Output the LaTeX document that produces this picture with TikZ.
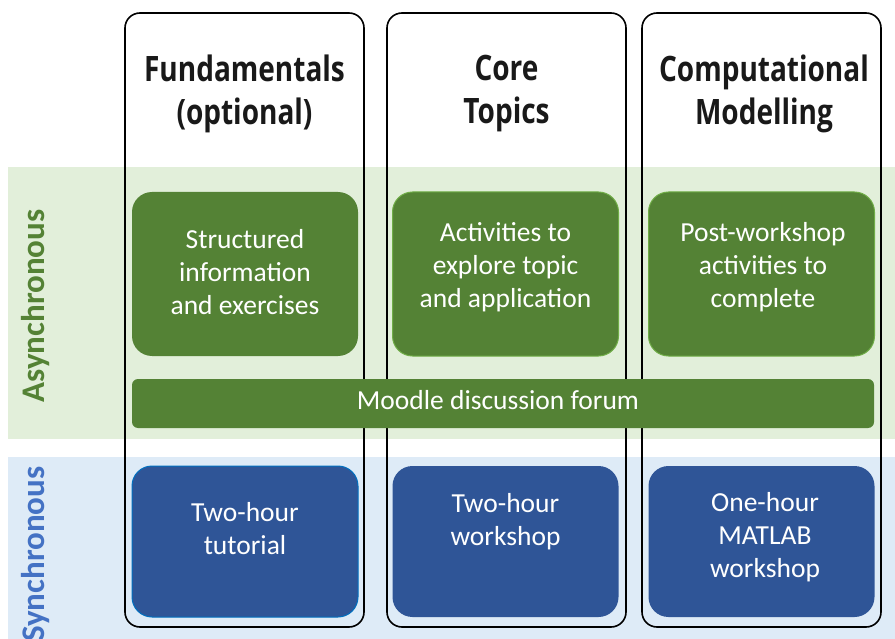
\documentclass[tikz,border=0pt]{standalone}
\usepackage{fontspec}
\setmainfont{Carlito}
\newfontfamily\headfont[FakeStretch=0.8]{Open Sans}
\definecolor{dgreen}{HTML}{548235}
\definecolor{lgreen}{HTML}{E2EFDA}
\definecolor{mgreen}{HTML}{70AD47}
\definecolor{dblue}{HTML}{2F5597}
\definecolor{lblue}{HTML}{DEEBF7}
\definecolor{mblue}{HTML}{0070C0}
\definecolor{sideblue}{HTML}{4472C4}
\begin{document}
\begin{tikzpicture}[x=1pt,y=-1pt,
  colbox/.style={draw=black,line width=1.6pt,rounded corners=15pt,fill=none,minimum width=239pt,minimum height=614pt,inner sep=0pt},
  gbox/.style={fill=dgreen,rounded corners=20pt,minimum width=226pt,minimum height=164pt,inner sep=0pt},
  bbox/.style={fill=dblue,rounded corners=20pt,minimum width=226pt,minimum height=151pt,inner sep=0pt},
  boxtext/.style={text=white,align=center,font=\fontsize{27.5}{33}\selectfont},
  headtext/.style={align=center,text=black!90,font=\fontsize{35}{43}\selectfont\headfont\bfseries},
  sidetext/.style={rotate=90,anchor=east,font=\fontsize{33}{38}\selectfont\bfseries}]
\useasboundingbox (0,0) rectangle (895,639);
\fill[white] (0,0) rectangle (895,639);
% bands
\fill[lgreen] (8,167) rectangle (895,439);
\fill[lblue] (8,457) rectangle (895,639);
% column outlines
\node[colbox] (c1) at (244.5,320) {};
\node[colbox] (c2) at (506.5,320) {};
\node[colbox] (c3) at (761.5,320) {};
% headers
\node[headtext] (h1) at (244.5,94) {Fundamentals\\(optional)};
\node[headtext] (h2) at (506.5,94) {Core\\Topics};
\node[headtext] (h3) at (764,94) {Computational\\Modelling};
% side labels
\node[sidetext,text=dgreen] (async) at (36,206) {Asynchronous};
\node[sidetext,text=sideblue] (sync) at (36,463) {Synchronous};
% green boxes
\node[gbox] (g1) at (245,274) {};
\node[gbox,draw=mgreen,line width=1pt] (g2) at (505.5,274) {};
\node[gbox,draw=mgreen,line width=1pt] (g3) at (761.5,274) {};
\node[boxtext] (tg1) at (245,272) {Structured\\information\\and exercises};
\node[boxtext] (tg2) at (505.5,267) {Activities to\\explore topic\\and application};
\node[boxtext] (tg3) at (763,267) {Post-workshop\\activities to\\complete};
% moodle bar
\node[fill=dgreen,rounded corners=6pt,minimum width=742pt,minimum height=49pt,inner sep=0pt] (moodle) at (503,403.5) {};
\node[boxtext] (tm) at (498,400) {Moodle discussion forum};
% blue boxes
\node[bbox,draw=mblue,line width=1pt] (b1) at (245,541.5) {};
\node[bbox] (b2) at (505.5,541.5) {};
\node[bbox] (b3) at (761.5,541.5) {};
\node[boxtext] (tb1) at (245,529) {Two-hour\\tutorial};
\node[boxtext] (tb2) at (505.5,522) {Two-hour\\workshop};
\node[boxtext] (tb3) at (765,537) {One-hour\\MATLAB\\workshop};
\end{tikzpicture}
\end{document}
